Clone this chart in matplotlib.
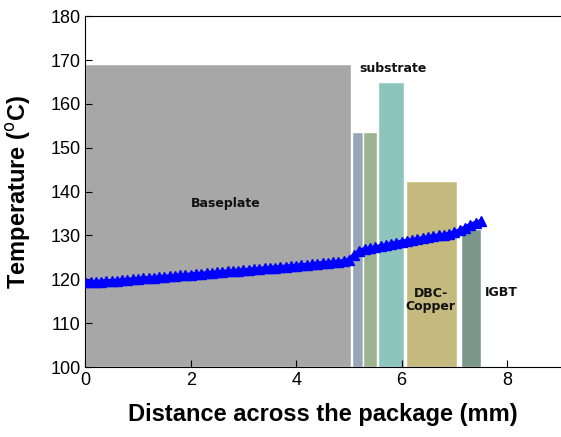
import numpy as np
import matplotlib.pyplot as plt

# layers of the package: (left edge, width, peak temperature)
layer_names = ["Baseplate", "Solder", "Substrate-1", "Substrate-2", "DBC-Copper", "IGBT"]
layer_left = [0.0, 5.05, 5.27, 5.56, 6.08, 7.12]
layer_width = [5.03, 0.21, 0.27, 0.49, 0.96, 0.39]
layer_temp = [169.2, 153.6, 153.6, 165.0, 142.5, 131.5]
layer_colors = ["#a7a7a7", "#97a5b7", "#9db28f", "#8dc5bd", "#c4ba7d", "#7b978b"]

# temperature profile across the package
dist = [0.0, 0.1, 0.2, 0.3, 0.4, 0.5, 0.6, 0.7, 0.8, 0.9,
        1.0, 1.1, 1.2, 1.3, 1.4, 1.5, 1.6, 1.7, 1.8, 1.9,
        2.0, 2.1, 2.2, 2.3, 2.4, 2.5, 2.6, 2.7, 2.8, 2.9,
        3.0, 3.1, 3.2, 3.3, 3.4, 3.5, 3.6, 3.7, 3.8, 3.9,
        4.0, 4.1, 4.2, 4.3, 4.4, 4.5, 4.6, 4.7, 4.8, 4.9,
        5.0, 5.1, 5.2, 5.3, 5.4, 5.5, 5.6, 5.7, 5.8, 5.9,
        6.0, 6.1, 6.2, 6.3, 6.4, 6.5, 6.6, 6.7, 6.8, 6.9,
        7.0, 7.1, 7.2, 7.3, 7.4, 7.5]
temp = [119.3, 119.4, 119.4, 119.5, 119.6, 119.6, 119.7, 119.8, 119.9, 120.0,
        120.1, 120.2, 120.3, 120.4, 120.5, 120.6, 120.7, 120.8, 120.9, 121.0,
        121.1, 121.2, 121.3, 121.4, 121.5, 121.6, 121.7, 121.8, 121.9, 122.0,
        122.1, 122.2, 122.3, 122.4, 122.5, 122.6, 122.7, 122.8, 122.9, 123.0,
        123.1, 123.2, 123.3, 123.4, 123.6, 123.7, 123.8, 123.9, 124.0, 124.2,
        124.5, 125.6, 126.5, 126.9, 127.1, 127.3, 127.6, 127.8, 128.1, 128.3,
        128.6, 128.8, 129.0, 129.2, 129.4, 129.6, 129.8, 130.0, 130.2, 130.4,
        130.7, 131.2, 131.8, 132.4, 132.9, 133.2]

fig = plt.figure(figsize=(5.61, 4.37), dpi=100)
ax = fig.add_axes([0.152, 0.16, 0.846, 0.803])

ax.bar(layer_left, np.array(layer_temp) - 100, width=layer_width, bottom=100,
       align="edge", color=layer_colors, edgecolor="white", linewidth=1, zorder=1)

ax.plot(dist, temp, color="#0000ff", marker="^", markersize=6.5, linewidth=3,
        linestyle="-", zorder=3)

lab = dict(fontsize=9, fontweight="bold", family="DejaVu Sans", color="#111111")
ax.text(2.67, 137.2, "Baseplate", ha="center", va="center", **lab)
ax.text(5.84, 168.0, "substrate", ha="center", va="center", **lab)
ax.text(6.55, 115.3, "DBC-\nCopper", ha="center", va="center", linespacing=1.05, **lab)
ax.text(7.88, 117.0, "IGBT", ha="center", va="center", **lab)

ax.set_xlim(0, 9)
ax.set_ylim(100, 180)
ax.set_xticks([0, 2, 4, 6, 8])
ax.set_yticks(np.arange(100, 181, 10))
ax.tick_params(direction="in", labelsize=13, length=5, top=False, right=False)
for t in ax.get_xticklabels() + ax.get_yticklabels():
    t.set_family("Liberation Sans")
ax.spines["right"].set_visible(False)

ax.set_xlabel("Distance across the package (mm)", fontsize=17, fontweight="bold",
              family="Liberation Sans", labelpad=10)
ax.set_ylabel("Temperature ($^{\\rm o}$C)", fontsize=17, fontweight="bold",
              family="Liberation Sans", labelpad=12)

fig.savefig("out.png", dpi=100)
